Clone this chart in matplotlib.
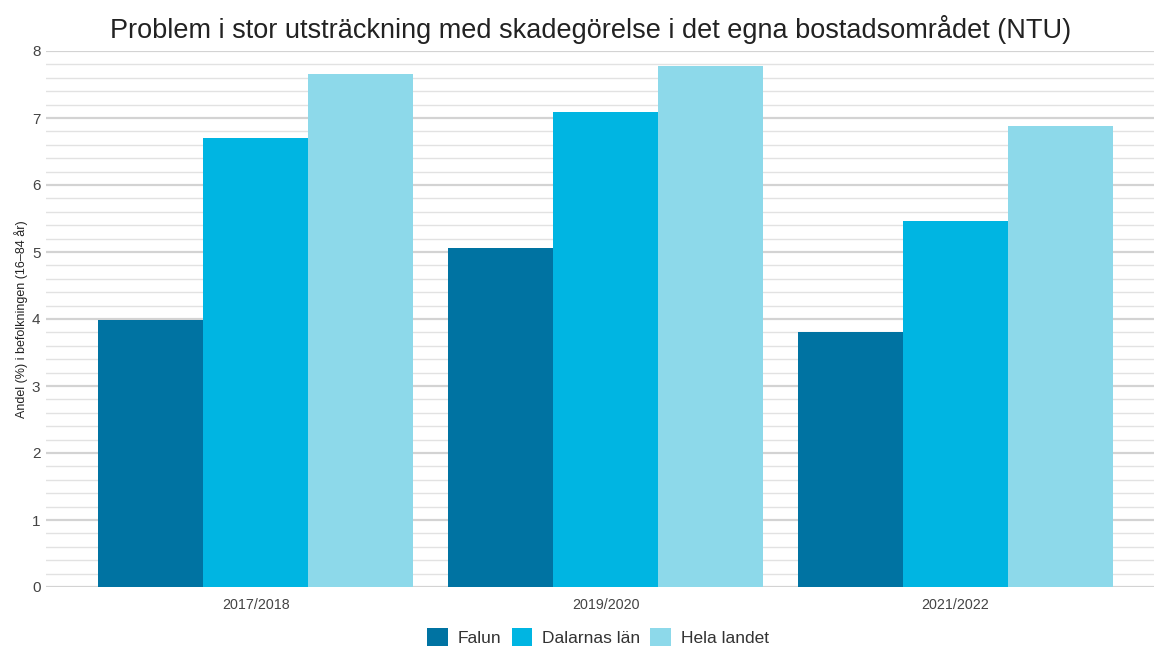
import matplotlib
matplotlib.use("Agg")
import matplotlib.pyplot as plt
import numpy as np
from matplotlib.patches import Patch

plt.rcParams['font.family'] = ['Liberation Sans', 'DejaVu Sans']

categories = ["2017/2018", "2019/2020", "2021/2022"]
series_names = ["Falun", "Dalarnas län", "Hela landet"]
falun = [3.98, 5.06, 3.81]
dalarna = [6.70, 7.09, 5.46]
hela = [7.66, 7.78, 6.88]
colors = ["#0073A2", "#00B5E2", "#8DD9EA"]

fig = plt.figure(figsize=(11.54, 6.48), dpi=100)
W, H = 1154, 648
ax = fig.add_axes([46 / W, 1 - 587 / H, (1154 - 46) / W, (587 - 51) / H])

x = np.arange(len(categories))
bw = 0.3
for i, (vals, c) in enumerate(zip([falun, dalarna, hela], colors)):
    ax.bar(x + (i - 1) * bw, vals, width=bw, color=c, zorder=3, linewidth=0)

ax.set_ylim(0, 8)
ax.set_xlim(-0.599, 2.567)
ax.set_yticks(np.arange(0, 9, 1))
ax.set_yticks(np.arange(0, 8.01, 0.2), minor=True)
ax.yaxis.grid(True, which='major', color='#d3d3d3', linewidth=1.6, zorder=0)
ax.yaxis.grid(True, which='minor', color='#e2e2e2', linewidth=1.0, zorder=0)
ax.set_xticks(x)
ax.set_xticklabels(categories)
for s in ax.spines.values():
    s.set_visible(False)
ax.tick_params(axis='both', which='both', length=0)
ax.tick_params(axis='y', labelsize=11, labelcolor='#444444', pad=4)
ax.tick_params(axis='x', labelsize=10.3, labelcolor='#444444', pad=8)
ax.set_ylabel("Andel (%) i befolkningen (16–84 år)", fontsize=9, color='#222222', labelpad=3)

fig.text(591 / W, 1 - 29 / H, "Problem i stor utsträckning med skadegörelse i det egna bostadsområdet (NTU)",
         ha='center', va='center', fontsize=19.5, color='#222222')

handles = [Patch(facecolor=c, edgecolor='none') for c in colors]
fig.legend(handles, series_names, loc='center', bbox_to_anchor=(598 / W, 1 - 637 / H), ncol=3,
           frameon=False, fontsize=12.5, handlelength=1.2, handleheight=1.2, handletextpad=0.55,
           columnspacing=0.6, labelcolor='#333333')

fig.savefig("out.png", dpi=100)
